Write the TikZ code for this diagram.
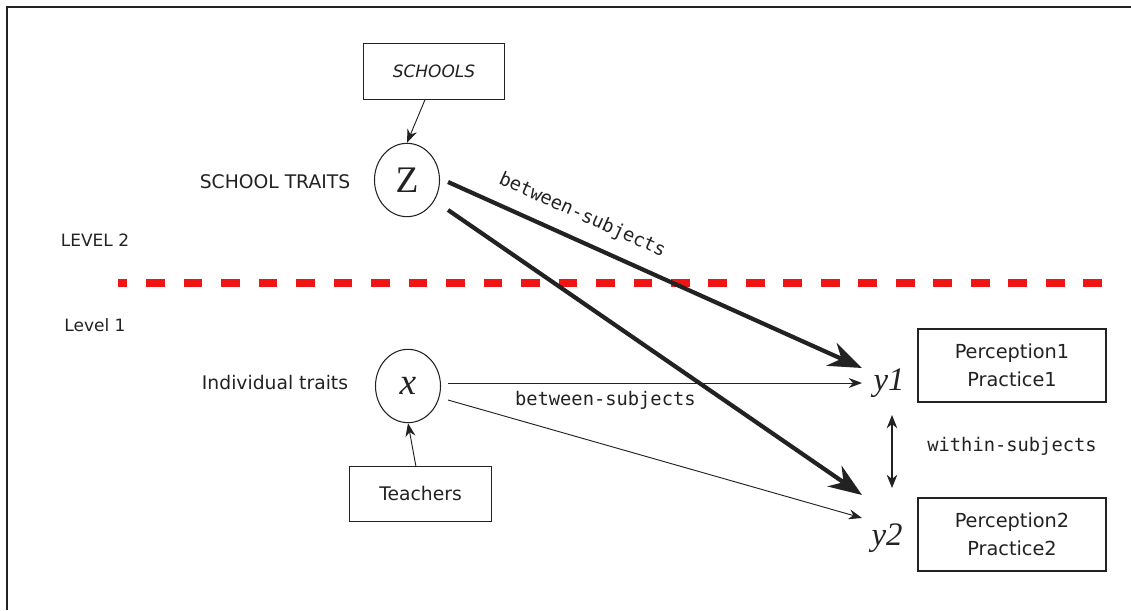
\documentclass[tikz,border=0pt]{standalone}
\usepackage{fontspec}
\setmainfont{DejaVu Sans}
\setmonofont{DejaVu Sans Mono}
\newfontfamily\varfont{Liberation Serif}
\usetikzlibrary{arrows.meta,shapes.geometric,calc}
\definecolor{Ink}{HTML}{222222}
\definecolor{Divider}{HTML}{F01414}
\tikzset{
  every node/.append style={text=Ink},
  box/.style={draw=Ink, line width=0.9pt, minimum width=4.24cm, minimum height=1.66cm,
              inner sep=0pt, font=\fontsize{16}{19}\selectfont},
  outbox/.style={box, minimum width=5.64cm, minimum height=2.19cm, align=center,
                 font=\fontsize{16.5}{24}\selectfont},
  latent/.style={ellipse, draw=Ink, line width=0.9pt, minimum width=1.95cm,
                 minimum height=2.2cm, inner sep=0pt, font=\varfont\fontsize{32}{32}\selectfont},
  var/.style={inner sep=1pt, font=\varfont\fontsize{28}{28}\selectfont},
  tag/.style={font=\fontsize{16}{19}\selectfont},
  lvl/.style={font=\fontsize{14.5}{17}\selectfont},
  mono/.style={font=\ttfamily\fontsize{16}{19}\selectfont},
  arrow/.style={-{Stealth[length=4mm,width=3mm]}, line width=0.8pt, draw=Ink},
  arrowbig/.style={-{Stealth[length=10mm,width=7.5mm]}, line width=3.6pt, draw=Ink},
  arrowboth/.style={{Stealth[length=4mm,width=3.2mm]}-{Stealth[length=4mm,width=3.2mm]},
                    line width=1.2pt, draw=Ink},
}
\begin{document}
\begin{tikzpicture}[x=0.03cm,y=-0.03cm]
  \useasboundingbox (0,0) rectangle (1131,610);
  \draw[line width=2.2pt, draw=Ink] (1131,7) -- (7,7) -- (7,610);
  \node[box, font=\itshape\fontsize{14.5}{17}\selectfont] (schools) at (434,71.5) {SCHOOLS};
  \node[latent] (z) at (407,180) {Z};
  \node[tag] (schooltraits) at (275,182) {SCHOOL TRAITS};
  \node[lvl] (lvltwo) at (95,240) {LEVEL 2};
  \node[lvl] (lvlone) at (95,325) {Level 1};
  \draw[Divider, line width=6pt, dash pattern=on 16pt off 16pt, dash phase=8pt] (118,283) -- (1110,283);
  \node[latent] (x) at (408,386) {\itshape x};
  \node[tag] (indiv) at (275,383) {Individual traits};
  \node[box] (teach) at (420.5,494) {Teachers};
  \node[var] (y1) at (889,383) {\itshape y1};
  \node[var] (y2) at (887,538) {\itshape y2};
  \node[outbox] (p1) at (1012,365.5) {Perception1\\Practice1};
  \node[outbox] (p2) at (1012,534.5) {Perception2\\Practice2};
  \coordinate (wtop) at (892,415);
  \coordinate (wbot) at (892,488);
  \node[mono] (within) at (1012,446) {within-subjects};
  \draw[arrow] ([xshift=-0.27cm]schools.south) -- (z.north);
  \draw[arrow] ([xshift=-0.14cm]teach.north) -- (x.south);
  \draw[arrowbig] ($(z.east)+(8,2)$) -- node[mono, sloped, above=8pt, pos=0.3] (btop) {between-subjects} ($(y1)+(-27,-15)$);
  \draw[arrowbig] ($(z.east)+(8,30)$) -- ($(y2)+(-25,-43)$);
  \draw[arrow] ($(x.east)+(7,-3)$) -- node[mono, below=3pt, pos=0.38] (bbot) {between-subjects} ($(y1)+(-27,0)$);
  \draw[arrow] ($(x.east)+(7,14)$) -- ($(y2)+(-25,-20)$);
  \draw[arrowboth] (wtop) -- (wbot);
\end{tikzpicture}
\end{document}
